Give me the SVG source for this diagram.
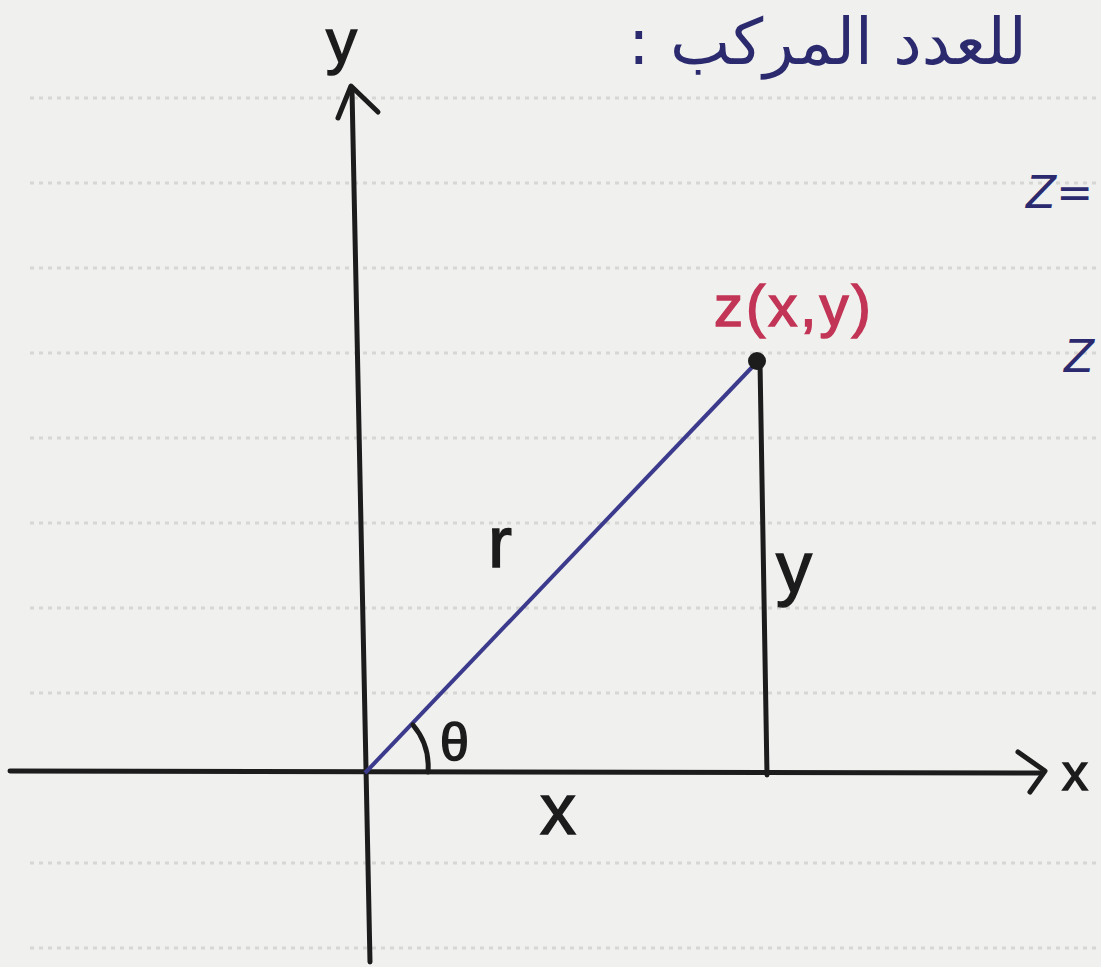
<svg xmlns="http://www.w3.org/2000/svg" width="1101" height="967" viewBox="0 0 1101 967">
<defs>
<style>
.rule{stroke:#d6d6d4;stroke-width:3;stroke-dasharray:4 5;fill:none}
.ink{stroke:#1c1c1c;stroke-width:5;fill:none;stroke-linecap:round;stroke-linejoin:round}
.lbl{font-family:"Liberation Sans",Arial,sans-serif;fill:#1c1c1c;stroke:#1c1c1c;stroke-width:1.5}
.navy{font-family:"DejaVu Sans","Noto Sans",sans-serif;fill:#2b2a6e}
</style>
</defs>
<rect width="1101" height="967" fill="#f0f0ee"/>
<g id="paper-lines">
<path class="rule" d="M30 98H1101M30 183H1101M30 268H1101M30 353H1101M30 438H1101M30 523H1101M30 608H1101M30 693H1101M30 863H1101M30 948H1101"/>
</g>
<g id="heading">
<text class="navy" x="628" y="64" font-size="64" direction="rtl" text-anchor="end">للعدد المركب :</text>
<text class="navy" x="1026" y="208" font-size="44" font-style="italic">Z=</text>
<text class="navy" x="1064" y="372" font-size="44" font-style="italic">Z</text>
</g>
<g id="axes">
<path class="ink" d="M352 90L370 962"/>
<path class="ink" d="M338 118L351 86L378 112"/>
<path class="ink" d="M10 771L1042 773"/>
<path class="ink" d="M1018 752L1045 771L1030 792"/>
<text class="lbl" x="326" y="62" font-size="62">y</text>
<text class="lbl" x="1062" y="790" font-size="52">x</text>
</g>
<g id="triangle">
<path d="M365 773L757 362" stroke="#3b3a8c" stroke-width="4" fill="none"/>
<path class="ink" d="M760 362L767 775"/>
<path class="ink" d="M413 725Q430 745 428 772"/>
<circle cx="757" cy="361" r="9" fill="#1c1c1c"/>
</g>
<g id="labels">
<text x="714" y="326" font-size="58" fill="#c23556" stroke="#c23556" stroke-width="1.5" letter-spacing="3" font-family="'Liberation Sans',Arial,sans-serif">z(x,y)</text>
<text class="lbl" x="488" y="567" font-size="72">r</text>
<text class="lbl" x="776" y="592" font-size="72">y</text>
<text class="lbl" x="440" y="760" font-size="52">θ</text>
<text class="lbl" x="540" y="834" font-size="72">x</text>
</g>
</svg>
